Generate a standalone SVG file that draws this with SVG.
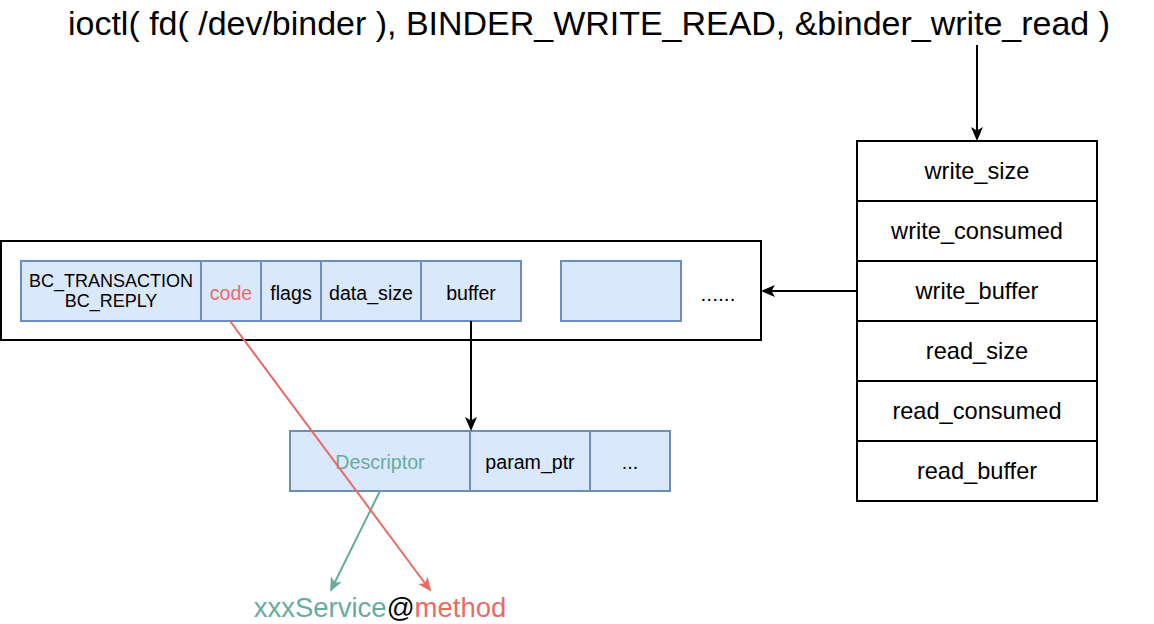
<svg xmlns="http://www.w3.org/2000/svg" width="1154" height="624" viewBox="0 0 1154 624">
<style>
text{font-family:"Liberation Sans",Arial,Helvetica,sans-serif;text-anchor:middle;dominant-baseline:central;fill:#000}
.cell{fill:#dae8fc;stroke:#6c8ebf;stroke-width:2}
.box{fill:#fff;stroke:#000;stroke-width:2}
.f19{font-size:19.6px}
.f18{font-size:18px}
.f24{font-size:23.6px}
.red{fill:#EA6B66}
.green{fill:#67AB9F}
</style>
<defs>
<marker id="ab" markerWidth="16" markerHeight="16" refX="12" refY="6" orient="auto" markerUnits="userSpaceOnUse" viewBox="0 0 16 12">
<path d="M0,0 L14,6 L0,12 L3.5,6 Z" fill="#000"/>
</marker>
<marker id="ar" markerWidth="16" markerHeight="16" refX="12" refY="6" orient="auto" markerUnits="userSpaceOnUse" viewBox="0 0 16 12">
<path d="M0,0 L14,6 L0,12 L3.5,6 Z" fill="#EA6B66"/>
</marker>
<marker id="ag" markerWidth="16" markerHeight="16" refX="12" refY="6" orient="auto" markerUnits="userSpaceOnUse" viewBox="0 0 16 12">
<path d="M0,0 L14,6 L0,12 L3.5,6 Z" fill="#67AB9F"/>
</marker>
</defs>
<g id="title"><text x="589" y="23" style="font-size:34px" textLength="1042" lengthAdjust="spacingAndGlyphs">ioctl( fd( /dev/binder ), BINDER_WRITE_READ, &amp;binder_write_read )</text></g>
<g id="write-buffer-container">
<rect class="box" x="1" y="241" width="760" height="99"/>
<text x="718" y="293" style="font-size:21px">......</text>
</g>
<g id="bc-cell"><rect class="cell" x="21" y="261" width="180" height="60"/><text x="111" y="281" class="f18">BC_TRANSACTION</text><text x="111" y="301" class="f18">BC_REPLY</text></g>
<g id="code-cell"><rect class="cell" x="201" y="261" width="60" height="60"/><text x="231" y="293" class="f19 red">code</text></g>
<g id="flags-cell"><rect class="cell" x="261" y="261" width="60" height="60"/><text x="291" y="293" class="f19">flags</text></g>
<g id="data-size-cell"><rect class="cell" x="321" y="261" width="100" height="60"/><text x="371" y="293" class="f19">data_size</text></g>
<g id="buffer-cell"><rect class="cell" x="421" y="261" width="100" height="60"/><text x="471" y="293" class="f19">buffer</text></g>
<g id="empty-cell"><rect class="cell" x="561" y="261" width="120" height="60"/></g>
<g id="bwr">
<rect class="box" x="857" y="141" width="240" height="60"/><text x="977" y="171" class="f24">write_size</text>
<rect class="box" x="857" y="201" width="240" height="60"/><text x="977" y="231" class="f24">write_consumed</text>
<rect class="box" x="857" y="261" width="240" height="60"/><text x="977" y="291" class="f24">write_buffer</text>
<rect class="box" x="857" y="321" width="240" height="60"/><text x="977" y="351" class="f24">read_size</text>
<rect class="box" x="857" y="381" width="240" height="60"/><text x="977" y="411" class="f24">read_consumed</text>
<rect class="box" x="857" y="441" width="240" height="60"/><text x="977" y="471" class="f24">read_buffer</text>
</g>
<g id="descriptor-cell"><rect class="cell" x="290" y="431" width="180" height="60"/><text x="380" y="462" class="f19 green">Descriptor</text></g>
<g id="param-ptr-cell"><rect class="cell" x="470" y="431" width="120" height="60"/><text x="530" y="462" class="f19">param_ptr</text></g>
<g id="more-cell"><rect class="cell" x="590" y="431" width="80" height="60"/><text x="630" y="462" class="f19">...</text></g>
<g id="service-method"><text x="380" y="607" style="font-size:27.5px"><tspan class="green">xxxService</tspan><tspan>@</tspan><tspan class="red">method</tspan></text></g>
<g id="connectors" fill="none">
<line x1="977" y1="45" x2="977" y2="139" stroke="#000" stroke-width="2" marker-end="url(#ab)"/>
<line x1="857" y1="291" x2="763" y2="291" stroke="#000" stroke-width="2" marker-end="url(#ab)"/>
<line x1="471" y1="321" x2="471" y2="429" stroke="#000" stroke-width="2" marker-end="url(#ab)"/>
<line x1="380" y1="491" x2="331" y2="590" stroke="#67AB9F" stroke-width="2" marker-end="url(#ag)"/>
<line x1="230" y1="321" x2="430" y2="590" stroke="#EA6B66" stroke-width="2" marker-end="url(#ar)"/>
</g>
</svg>
